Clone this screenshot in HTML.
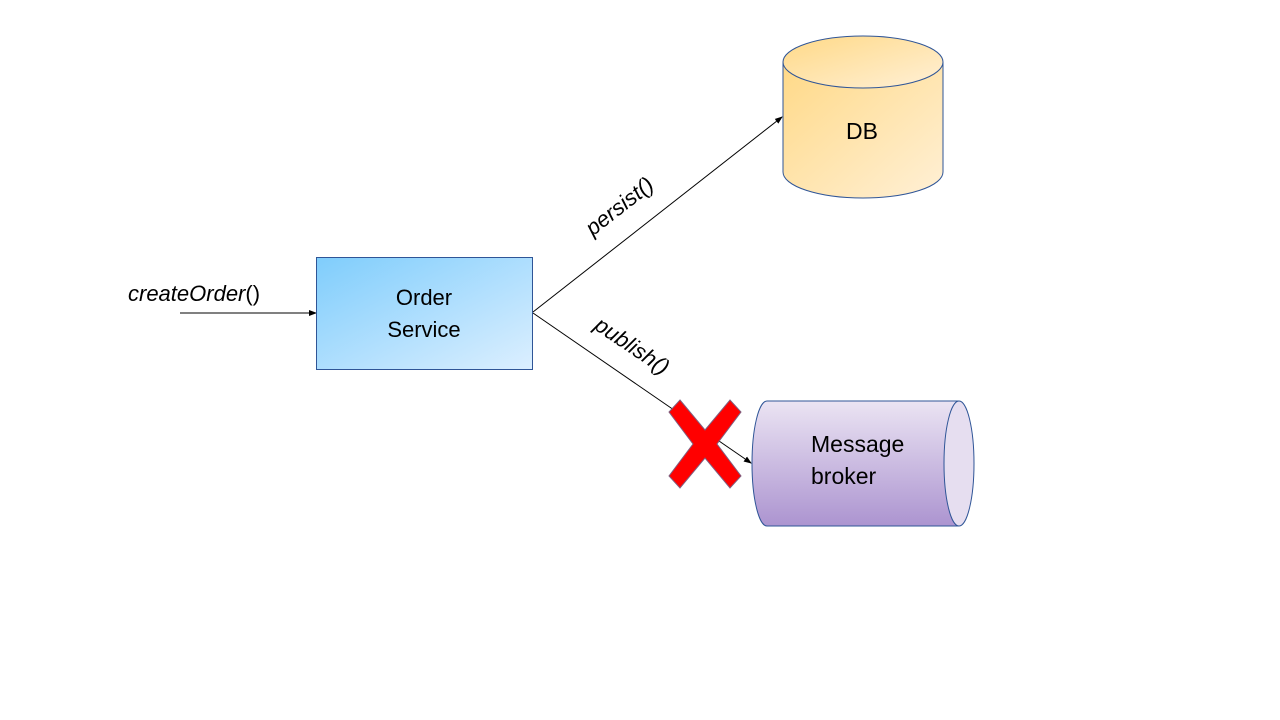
<!DOCTYPE html>
<html><head><style>
html,body{margin:0;padding:0;background:#fff;}
svg{display:block;}
text{font-family:"Liberation Sans",Calibri,sans-serif;}
</style></head><body>
<svg width="1280" height="720" viewBox="0 0 1280 720" xmlns="http://www.w3.org/2000/svg">
<defs>
<linearGradient id="blue" x1="0" y1="0" x2="1" y2="1">
<stop offset="0" stop-color="#7fcdfc"/><stop offset="1" stop-color="#dcefff"/></linearGradient>
<linearGradient id="gold" x1="0" y1="0" x2="1" y2="1">
<stop offset="0" stop-color="#ffd987"/><stop offset="1" stop-color="#fff0d6"/></linearGradient>
<linearGradient id="purp" x1="0" y1="0" x2="0" y2="1">
<stop offset="0" stop-color="#ebe4f3"/><stop offset="1" stop-color="#ac94d0"/></linearGradient>
<marker id="ar" markerWidth="8" markerHeight="8" refX="7" refY="4" orient="auto" markerUnits="userSpaceOnUse">
<path d="M0,1 L8,4 L0,7 z" fill="#000"/></marker>
</defs>
<line x1="180" y1="313" x2="316" y2="313" stroke="#000" stroke-width="1" marker-end="url(#ar)"/>
<text x="128" y="301" font-size="22" font-style="italic" fill="#000">createOrder<tspan font-style="normal">()</tspan></text>
<rect x="316.5" y="257.5" width="216" height="112" fill="url(#blue)" stroke="#2f5597" stroke-width="1"/>
<text x="424" y="305" font-size="22" text-anchor="middle">Order</text>
<text x="424" y="337" font-size="22" text-anchor="middle">Service</text>
<line x1="533" y1="312" x2="782" y2="117" stroke="#000" stroke-width="1" marker-end="url(#ar)"/>
<line x1="533" y1="313" x2="751" y2="463" stroke="#000" stroke-width="1" marker-end="url(#ar)"/>
<text transform="translate(624,212) rotate(-38)" font-size="22" font-style="italic" text-anchor="middle">persist()</text>
<text transform="translate(628,352) rotate(34)" font-size="22" font-style="italic" text-anchor="middle">publish()</text>
<path d="M783,62 L783,172 A80,26 0 0 0 943,172 L943,62" fill="url(#gold)" stroke="#2f5597" stroke-width="1"/>
<ellipse cx="863" cy="62" rx="80" ry="26" fill="url(#gold)" stroke="#2f5597" stroke-width="1"/>
<text x="862" y="139" font-size="23" text-anchor="middle">DB</text>
<path d="M767,401 L959,401 L959,526 L767,526 A15,62.5 0 0 1 767,401 z" fill="url(#purp)" stroke="#2f5597" stroke-width="1"/>
<ellipse cx="959" cy="463.5" rx="15" ry="62.5" fill="#e6def0" stroke="#2f5597" stroke-width="1"/>
<text x="811" y="452" font-size="23">Message</text>
<text x="811" y="484" font-size="23">broker</text>
<g transform="translate(705,444)">
<path d="M-25,-44 L0,-14 L25,-44 L36,-32 L12,0 L36,32 L25,44 L0,14 L-25,44 L-36,32 L-12,0 L-36,-32 z" fill="#ff0000" stroke="#7f5f7f" stroke-width="1"/>
</g>
</svg>
</body></html>
